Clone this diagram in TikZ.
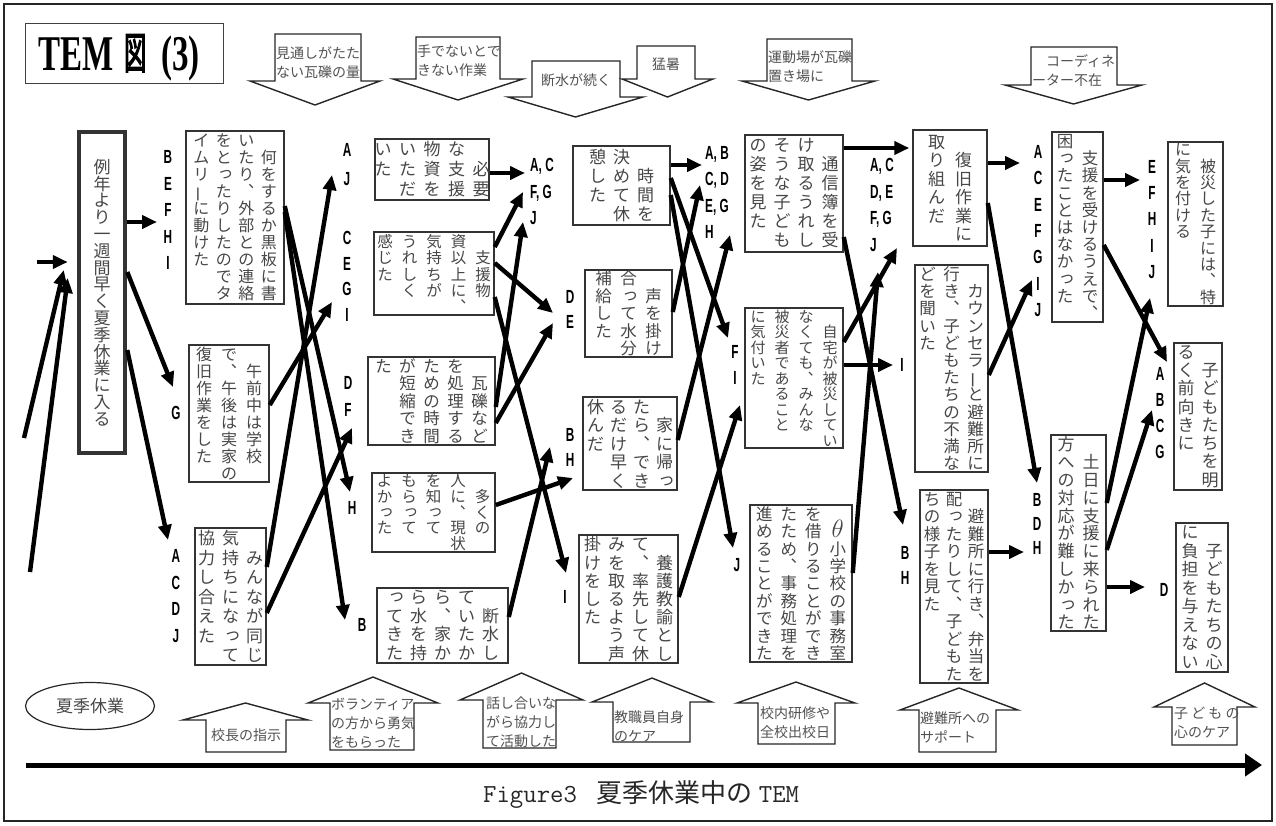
\documentclass[tikz,border=0pt]{standalone}
\usepackage{fontspec}
\usepackage{graphicx}
\usetikzlibrary{arrows.meta,calc,shapes.geometric}
\newfontfamily\hjp{Noto Sans CJK JP}
\newfontfamily\labfont[FakeStretch=0.62]{Liberation Sans}
\newfontfamily\ttlfont[FakeStretch=0.66]{Liberation Serif}
\newfontfamily\ttljp[FakeStretch=0.5,FakeBold=2.5]{Noto Sans CJK JP}
% ---- vertical Japanese text, built column by column ----
\newdimen\jvpitch \newdimen\jvcw \newbox\jvacc
\def\jvtheta{\ensuremath{\theta}}
\def\jvloop#1{\ifx#1\relax\else\jvcell{#1}\expandafter\jvloop\fi}
\def\jvcell#1{\hbox to\jvcw{\hss\jvglyph{#1}\hss}}
\def\jvglyph#1{%
  \ifx#1、\makebox[1em]{︑}%
  \else\ifx#1ー\makebox[1em]{\rotatebox[origin=c]{90}{ー}}%
  \else\ifx#1っ\makebox[1em][l]{\kern0.12em\raisebox{0.12em}{っ}}%
  \else\ifx#1\jvtheta\makebox[1em]{\scalebox{1.45}{\jvtheta}}%
  \else #1\fi\fi\fi\fi}
\def\jvcolumn#1{\vtop{\baselineskip=\jvpitch\lineskiplimit=-\maxdimen\lineskip=0pt\jvloop#1\relax}}
\def\jvsplitcols#1|#2\jvend{\setbox\jvacc\hbox{\jvcolumn{#1}\unhbox\jvacc}\if\relax\detokenize{#2}\relax\else\jvsplitcols#2\jvend\fi}
\newcommand\jvtxt[4]{\hjp\fontsize{#1}{#1}\selectfont\jvpitch=#2pt\jvcw=#3pt\setbox\jvacc\hbox{}\jvsplitcols#4|\jvend\box\jvacc}
\newcommand\blockarrow[7]{\draw[blockar] (#1,#3) -- (#2,#3) -- (#2,#4) -- (#6,#4) -- ({(#5+#6)/2},#7) -- (#5,#4) -- (#1,#4) -- cycle;}
\tikzset{
  every node/.style={inner sep=0pt},
  box/.style={draw=black!80, line width=1.5pt},
  vt/.style={text=black!72},
  conn/.style={line width=4.4pt, -{Triangle[length=15pt,width=13pt]}},
  blockar/.style={draw=black!85, line width=1.4pt, fill=white, line join=miter},
  atext/.style={font=\hjp\fontsize{14}{19}\selectfont, text=black!68, align=left},
  lab/.style={font=\labfont\bfseries\fontsize{19}{26.5}\selectfont, align=center},
  labl/.style={font=\labfont\bfseries\fontsize{19}{26.5}\selectfont, align=left, anchor=west},
}
\begin{document}
\begin{tikzpicture}[x=1pt,y=-1pt]
\useasboundingbox (0,0) rectangle (1276,825);
\draw[line width=1.8pt, black!85] (4,4) rectangle (1272,821);

% title
\node[draw=black!75, line width=1pt, minimum width=198pt, minimum height=60pt] (tbox) at (124,53.5) {};
\node[anchor=base west, font=\ttlfont\bfseries\fontsize{50}{50}\selectfont] (tt1) at (38,70) {TEM};
\node[anchor=base west, font=\ttljp\fontsize{44}{44}\selectfont] (tt2) at (124,69) {図};
\node[anchor=base west, font=\ttlfont\bfseries\fontsize{50}{50}\selectfont] (tt3) at (161,70) {(3)};

% top block arrows
\blockarrow{275}{361}{34}{81}{250}{380}{105}
\blockarrow{416}{500}{37}{79}{393}{523}{100}
\blockarrow{532}{620}{61}{97}{508}{643}{117}
\blockarrow{637}{695}{46}{79}{622}{713}{97}
\blockarrow{767}{852}{39}{81}{742}{875}{100}
\blockarrow{1031}{1117}{47}{85}{1005}{1142}{104}
\node[atext, anchor=north west] (ta1) at (276,46) {見通しがたた\\ない瓦礫の量};
\node[atext, anchor=north west] (ta2) at (417,45) {手でないとで\\きない作業};
\node[atext] (ta3) at (576,80) {断水が続く};
\node[atext] (ta4) at (666,64) {猛暑};
\node[atext, anchor=north west] (ta5) at (768,50) {運動場が瓦礫\\置き場に};
\node[atext, anchor=north west] (ta6) at (1032,54) {　コーディネ\\ーター不在};

% bottom block arrows
\blockarrow{206}{286}{752}{720}{183}{308}{703}
\blockarrow{330}{414}{750}{703}{308}{438}{677}
\blockarrow{483}{556}{748}{700}{460}{583}{673}
\blockarrow{613}{690}{742}{702}{592}{712}{678}
\blockarrow{758}{835}{744}{703}{737}{855}{682}
\blockarrow{919}{996}{752}{710}{900}{1018}{688}
\blockarrow{1172}{1237}{745}{707}{1154}{1255}{683}
\node[atext] (tb1) at (246,735) {校長の指示};
\node[atext, anchor=north west] (tb2) at (331,698) {ボランティア\\の方から勇気\\をもらった};
\node[atext, anchor=north west] (tb3) at (486,697) {話し合いな\\がら協力し\\て活動した};
\node[atext, anchor=north west] (tb4) at (614,710) {教職員自身\\のケア};
\node[atext, anchor=north west] (tb5) at (760,707) {校内研修や\\全校出校日};
\node[atext, anchor=north west] (tb6) at (920,712) {避難所への\\サポート};
\node[atext, anchor=north west] (tb7) at (1174,707) {子 ど も の\\心のケア};

% ellipse and axis
\node[draw=black!85, line width=1.2pt, ellipse, minimum width=129pt, minimum height=47pt, font=\hjp\fontsize{17}{17}\selectfont, text=black!72] (summer) at (90,706) {夏季休業};
\coordinate (ax0) at (26,765);
\coordinate (ax1) at (1262,765);
\draw[line width=5pt, -{Triangle[length=17pt,width=22pt]}] (ax0) -- (ax1);
\node[anchor=base west, text=black!85] (cap) at (483,802) {{\ttfamily\fontsize{26}{26}\selectfont Figure3}\hspace{20pt}{\hjp\fontsize{26}{26}\selectfont 夏季休業中の}\hspace{6pt}{\ttfamily\fontsize{26}{26}\selectfont TEM}};

% boxes
\node[box, line width=4.5pt, minimum width=46pt, minimum height=321pt] (b0) at (102,292.5) {};
\node[box, minimum width=98pt, minimum height=173pt] (b1) at (235,217.5) {};
\node[box, minimum width=80pt, minimum height=137pt] (b2) at (229,413.5) {};
\node[box, minimum width=71pt, minimum height=137pt] (b3) at (230.5,596.5) {};
\node[box, minimum width=114pt, minimum height=61pt] (b4) at (432,169.5) {};
\node[box, minimum width=120pt, minimum height=83pt] (b5) at (434,273.5) {};
\node[box, minimum width=127pt, minimum height=88pt] (b6) at (431.5,401) {};
\node[box, minimum width=123pt, minimum height=79pt] (b7) at (433.5,512.5) {};
\node[box, minimum width=131pt, minimum height=75pt] (b8) at (442.5,625.5) {};
\node[box, minimum width=97pt, minimum height=79pt] (b9) at (621.5,185.5) {};
\node[box, minimum width=87pt, minimum height=87pt] (b10) at (628.5,313.5) {};
\node[box, minimum width=94pt, minimum height=93pt] (b11) at (630,443.5) {};
\node[box, minimum width=99pt, minimum height=128pt] (b12) at (628.5,599) {};
\node[box, minimum width=98pt, minimum height=117pt] (b13) at (794,193.5) {};
\node[box, minimum width=98pt, minimum height=140pt] (b14) at (794,378) {};
\node[box, minimum width=102pt, minimum height=157pt] (b15) at (801,583.5) {};
\node[box, minimum width=74pt, minimum height=116pt] (b16) at (950,188) {};
\node[box, minimum width=73pt, minimum height=207pt] (b17) at (951.5,368.5) {};
\node[box, minimum width=68pt, minimum height=193pt] (b18) at (954,586.5) {};
\node[box, minimum width=51pt, minimum height=190pt] (b19) at (1077.5,227) {};
\node[box, minimum width=55pt, minimum height=196pt] (b20) at (1078.5,533) {};
\node[box, minimum width=55pt, minimum height=164pt] (b21) at (1195.5,224) {};
\node[box, minimum width=48pt, minimum height=147pt] (b22) at (1198,416.5) {};
\node[box, minimum width=52pt, minimum height=149pt] (b23) at (1202,597.5) {};

% vertical texts: \jvtxt{font size}{char pitch}{column pitch}{col1|col2|...}
\node[vt] (t0) at (b0.center) {\jvtxt{17}{16.8}{20}{例年より一週間早く夏季休業に入る}};
\node[vt] (t1) at (b1.center) {\jvtxt{16}{17}{22.5}{　何をするか黒板に書|いたり、外部との連絡|をとったりしたのでタ|イムリーに動けた}};
\node[vt] (t2) at (b2.center) {\jvtxt{16}{17}{25}{　午前中は学校|で、午後は実家の|復旧作業をした}};
\node[vt] (t3) at (b3.center) {\jvtxt{17}{19.5}{24}{　みんなが同じ|気持ちになって|協力し合えた}};
\node[vt] (t4) at (b4.center) {\jvtxt{17}{20}{24.5}{　必要|な支援|物資を|いただ|いた}};
\node[vt] (t5) at (b5.center) {\jvtxt{15.5}{16.4}{24.5}{　支援物|資以上に、|気持ちが|うれしく|感じた}};
\node[vt] (t6) at (b6.center) {\jvtxt{16.5}{17.5}{24}{　瓦礫など|を処理する|ための時間|が短縮でき|た}};
\node[vt] (t7) at (b7.center) {\jvtxt{15.5}{15.8}{24.5}{　多くの|人に、現状|を知って|もらって|よかった}};
\node[vt] (t8) at (b8.center) {\jvtxt{17}{18.5}{24}{　断水し|ていたか|ら、家か|ら水を持|ってきた}};
\node[vt] (t9) at (b9.center) {\jvtxt{17}{19}{24}{　時間を|決めて休|憩した}};
\node[vt] (t10) at (b10.center) {\jvtxt{16.5}{17.4}{25}{　声を掛け|合って水分|補給した}};
\node[vt] (t11) at (b11.center) {\jvtxt{17}{18.5}{23}{　家に帰っ|たら、でき|るだけ早く|休んだ}};
\node[vt] (t12) at (b12.center) {\jvtxt{17}{18.2}{24}{　養護教諭とし|て、率先して休|みを取るよう声|掛けをした}};
\node[vt] (t13) at (b13.center) {\jvtxt{17}{19}{24}{　通信簿を受|け取るうれし|そうな子ども|の姿を見た}};
\node[vt] (t14) at (b14.center) {\jvtxt{15}{15.5}{24}{　自宅が被災してい|なくても、みんな|被災者であること|に気付いた}};
\node[vt] (t15) at (b15.center) {\jvtxt{16.5}{17.4}{24.5}{　\jvtheta 小学校の事務室|を借りることができ|たため、事務処理を|進めることができた}};
\node[vt] (t16) at (b16.center) {\jvtxt{17}{18.5}{27}{　復旧作業に|取り組んだ}};
\node[vt] (t17) at (b17.center) {\jvtxt{16.5}{17.2}{24}{　カウンセラーと避難所に|行き、子どもたちの不満な|どを聞いた}};
\node[vt] (t18) at (b18.center) {\jvtxt{16.5}{17.5}{22}{　避難所に行き、弁当を|配ったりして、子どもた|ちの様子を見た}};
\node[vt] (t19) at (b19.center) {\jvtxt{16.5}{17.2}{25}{　支援を受けるうえで、|困ったことはなかった}};
\node[vt] (t20) at (b20.center) {\jvtxt{17}{17.8}{25}{　土日に支援に来られた|方への対応が難しかった}};
\node[vt] (t21) at (b21.center) {\jvtxt{16}{16.4}{25}{　被災した子には、特|に気を付ける}};
\node[vt] (t22) at (b22.center) {\jvtxt{17}{18.3}{24}{　子どもたちを明|るく前向きに}};
\node[vt] (t23) at (b23.center) {\jvtxt{17}{18.5}{24}{　子どもたちの心|に負担を与えない}};

% labels
\node[lab] (L1a) at (168,210) {B\\E\\F\\H\\I};
\node[lab] (L1b) at (176,413) {G};
\node[lab] (L1c) at (176,596) {A\\C\\D\\J};
\node[lab, font=\labfont\bfseries\fontsize{19}{29}\selectfont] (L2a) at (347,165) {A\\J};
\node[lab, font=\labfont\bfseries\fontsize{19}{25.7}\selectfont] (L2b) at (347,276.5) {C\\E\\G\\I};
\node[lab, font=\labfont\bfseries\fontsize{19}{27}\selectfont] (L2c) at (348,396.5) {D\\F};
\node[lab] (L2d) at (352,508) {H};
\node[lab] (L2e) at (362,625) {B};
\node[labl] (L3a) at (530,191.5) {A, C\\F, G\\J};
\node[lab, font=\labfont\bfseries\fontsize{19}{25}\selectfont] (L3b) at (570,309.5) {D\\E};
\node[lab, font=\labfont\bfseries\fontsize{19}{25}\selectfont] (L3c) at (570,447.5) {B\\H};
\node[lab] (L3d) at (565,597) {I};
\node[labl, font=\labfont\bfseries\fontsize{19}{26.3}\selectfont] (L4a) at (705,192.5) {A, B\\C, D\\E, G\\H};
\node[lab, font=\labfont\bfseries\fontsize{19}{26}\selectfont] (L4b) at (735,365) {F\\I};
\node[lab] (L4c) at (737,565) {J};
\node[labl, font=\labfont\bfseries\fontsize{19}{26.7}\selectfont] (L5a) at (870,205) {A, C\\D, E\\F, G\\J};
\node[lab] (L5b) at (902,365) {I};
\node[lab, font=\labfont\bfseries\fontsize{19}{25}\selectfont] (L5c) at (905,565.5) {B\\H};
\node[lab, font=\labfont\bfseries\fontsize{19}{26.3}\selectfont] (L6a) at (1038,231) {A\\C\\E\\F\\G\\I\\J};
\node[lab, font=\labfont\bfseries\fontsize{19}{24}\selectfont] (L6b) at (1037,524) {B\\D\\H};
\node[lab, font=\labfont\bfseries\fontsize{19}{26.3}\selectfont] (L7a) at (1152,219.5) {E\\F\\H\\I\\J};
\node[lab, font=\labfont\bfseries\fontsize{19}{25.7}\selectfont] (L7b) at (1160,413) {A\\B\\C\\G};
\node[lab] (L7c) at (1164,590) {D};

% incoming arrows
\coordinate (in1) at (37,262);
\coordinate (in2) at (24,438);
\coordinate (in3) at (30,572);
\draw[conn, shorten >=9pt] (in1) -- (b0.west |- in1);
\draw[conn] (in2) -- ($(b0.west)+(-13,-22.5)$);
\draw[conn] (in3) -- ($(b0.west)+(-9,-14.5)$);

% connectors
\draw[conn] (b0.east |- 0,222) -- ($(L1a)+(-11,12)$);
\draw[conn] (b0.east |- 0,272) -- ($(L1b)+(-3,-26)$);
\draw[conn] (b0.east |- 0,350) -- ($(L1c)+(-8,-56)$);
\draw[conn] (b1.east |- 0,206) -- ($(L2d)+(-2,-16)$);
\draw[conn] (b1.east |- 0,212) -- ($(L2e)+(-17,-5)$);
\draw[conn] (b2.east |- 0,405) -- ($(L2b)+(-15,25.5)$);
\draw[conn] (b3.east |- 0,567) -- ($(L2a)+(-15,10)$);
\draw[conn] (b3.east |- 0,613) -- ($(L2c)+(4,31.5)$);

\draw[conn] (b4.east |- 0,173) -- ($(L3a.west)+(-5,-18.5)$);
\draw[conn] (b5.east |- 0,247) -- ($(L3a.west)+(-7,0.5)$);
\draw[conn] (b5.east |- 0,263) -- ($(L3b)+(-17,3.5)$);
\draw[conn] (b5.east |- 0,297) -- ($(L3d)+(1,-24)$);
\draw[conn] (b6.east |- 0,407) -- ($(L3a.west)+(-7,30.5)$);
\draw[conn] (b6.east |- 0,423) -- ($(L3b)+(-17,13.5)$);
\draw[conn] (b7.east |- 0,505) -- ($(L3c)+(3,30.5)$);
\draw[conn] (b8.east |- 0,617) -- ($(L3c)+(-20,-0.5)$);

\draw[conn] (b9.east |- 0,165) -- ($(L4a.west)+(-3,-27.5)$);
\draw[conn] (b9.east |- 0,178) -- ($(L4b)+(-7,-27)$);
\draw[conn] (b9.east |- 0,195) -- ($(L4c)+(-4,-17)$);
\draw[conn] (b10.east |- 0,312) -- ($(L4a.west)+(-5,-7.5)$);
\draw[conn] (b11.east |- 0,440) -- ($(L4a.west)+(25,42.5)$);
\draw[conn] (b12.east |- 0,597) -- ($(L4b)+(5,40)$);

\draw[conn, shorten >=3pt] (b13.east |- 0,148) -- (b16.west |- 0,148);
\draw[conn] (b13.east |- 0,237) -- ($(L5c)+(-2,-40.5)$);
\draw[conn] (b14.east |- 0,365) -- ($(L5b)+(-9,0)$);
\draw[conn] (b14.east |- 0,342) -- ($(L5a.west)+(27,43)$);
\draw[conn] (b15.east |- 0,573) -- ($(L5a.west)+(8,67)$);

\draw[conn] (b16.east |- 0,163) -- ($(L6a)+(-18,-68)$);
\draw[conn] (b16.east |- 0,203) -- ($(L6b)+(0,-41)$);
\draw[conn] (b17.east |- 0,375) -- ($(L6a)+(-6,49)$);
\draw[conn] (b18.east |- 0,552) -- ($(L6b)+(-13,28)$);

\draw[conn] (b19.east |- 0,180) -- ($(L7a)+(-12,-39.5)$);
\draw[conn] (b19.east |- 0,245) -- ($(L7b)+(7,-51)$);
\draw[conn] (b20.east |- 0,503) -- ($(L7a)+(-2,78.5)$);
\draw[conn] (b20.east |- 0,550) -- ($(L7b)+(-8,-3)$);
\draw[conn] (b20.east |- 0,587) -- ($(L7c)+(-19,-3)$);
\end{tikzpicture}
\end{document}
